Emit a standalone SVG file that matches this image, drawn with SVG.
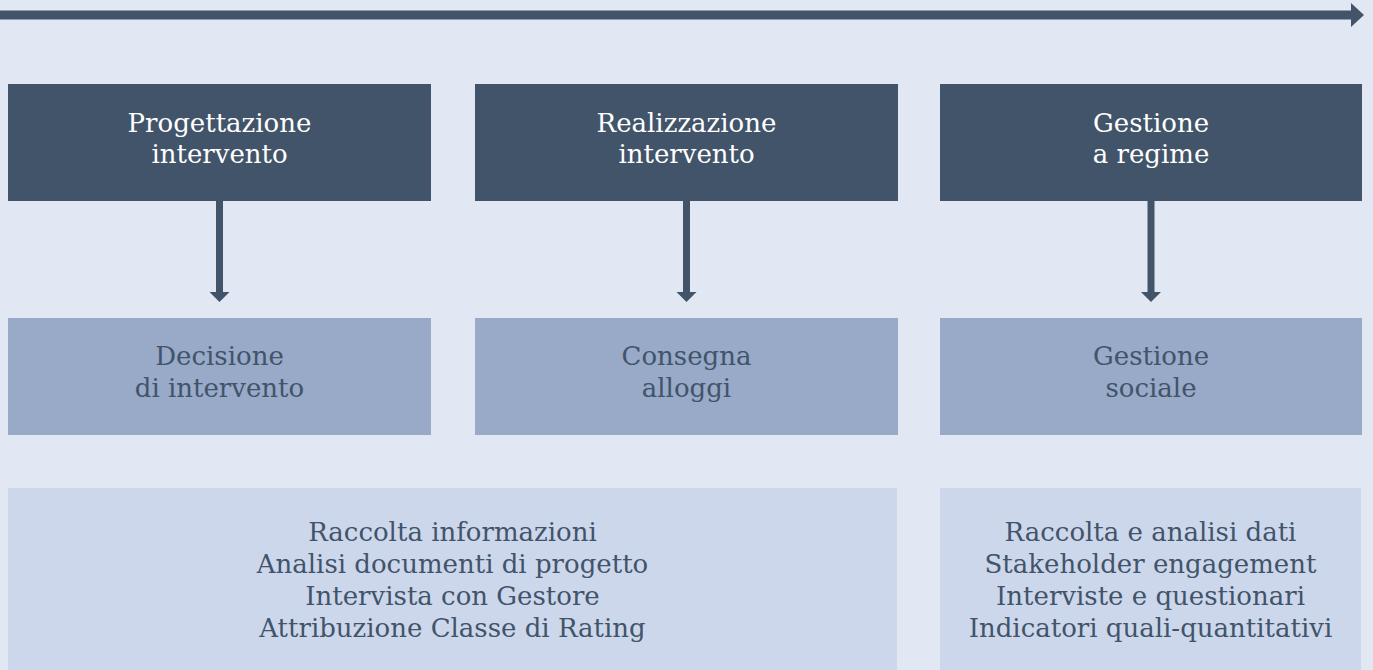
<svg xmlns="http://www.w3.org/2000/svg" width="1373" height="670" viewBox="0 0 1373 670">
<style>
.dark{fill:#41546A}
.mid{fill:#99A9C8}
.light{fill:#CDD7EC}
text{font-family:"DejaVu Serif","Liberation Serif",serif;font-size:26px;text-anchor:middle}
.w{fill:#FFFFFF}
.t{fill:#41546A}
.conn{stroke:#41546A;stroke-width:7;fill:none}
.head{fill:#41546A}
</style>
<rect width="1373" height="670" fill="#E1E7F3"/>
<g id="connectors">
<line x1="0" y1="15" x2="1352" y2="15" stroke="#41546A" stroke-width="9"/>
<polygon class="head" points="1351,3 1364,15 1351,27"/>
<line class="conn" x1="219.5" y1="200" x2="219.5" y2="293"/>
<polygon class="head" points="209.5,292 229.5,292 219.5,302"/>
<line class="conn" x1="686.5" y1="200" x2="686.5" y2="293"/>
<polygon class="head" points="676.5,292 696.5,292 686.5,302"/>
<line class="conn" x1="1151" y1="200" x2="1151" y2="293"/>
<polygon class="head" points="1141,292 1161,292 1151,302"/>
</g>
<g id="progettazione">
<rect class="dark" x="8" y="84" width="423" height="117"/>
<text class="w" x="219.5" y="132">Progettazione</text>
<text class="w" x="219.5" y="163">intervento</text>
</g>
<g id="realizzazione">
<rect class="dark" x="475" y="84" width="423" height="117"/>
<text class="w" x="686.5" y="132">Realizzazione</text>
<text class="w" x="686.5" y="163">intervento</text>
</g>
<g id="gestione">
<rect class="dark" x="940" y="84" width="422" height="117"/>
<text class="w" x="1151" y="132">Gestione</text>
<text class="w" x="1151" y="163">a regime</text>
</g>
<g id="decisione">
<rect class="mid" x="8" y="318" width="423" height="117"/>
<text class="t" x="219.5" y="365">Decisione</text>
<text class="t" x="219.5" y="397">di intervento</text>
</g>
<g id="consegna">
<rect class="mid" x="475" y="318" width="423" height="117"/>
<text class="t" x="686.5" y="365">Consegna</text>
<text class="t" x="686.5" y="397">alloggi</text>
</g>
<g id="gestione-sociale">
<rect class="mid" x="940" y="318" width="422" height="117"/>
<text class="t" x="1151" y="365">Gestione</text>
<text class="t" x="1151" y="397">sociale</text>
</g>
<g id="attivita-1">
<rect class="light" x="8" y="488" width="889" height="190"/>
<text class="t" x="452.5" y="541">Raccolta informazioni</text>
<text class="t" x="452.5" y="573">Analisi documenti di progetto</text>
<text class="t" x="452.5" y="605">Intervista con Gestore</text>
<text class="t" x="452.5" y="637">Attribuzione Classe di Rating</text>
</g>
<g id="attivita-2">
<rect class="light" x="940" y="488" width="421" height="190"/>
<text class="t" x="1150.5" y="541">Raccolta e analisi dati</text>
<text class="t" x="1150.5" y="573">Stakeholder engagement</text>
<text class="t" x="1150.5" y="605">Interviste e questionari</text>
<text class="t" x="1150.5" y="637">Indicatori quali-quantitativi</text>
</g>
</svg>
